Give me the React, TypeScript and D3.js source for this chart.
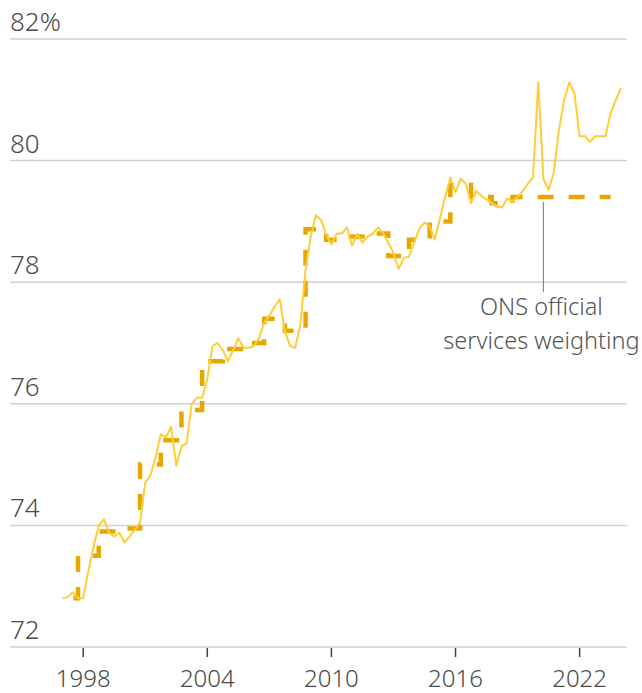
import React from 'react';
import * as d3 from 'd3';

const width = 642;
const height = 693;

const yTicks = [72, 74, 76, 78, 80, 82];
const xTicks = [1998, 2004, 2010, 2016, 2022];

// quarterly services share, 1997 Q1 .. 2024 Q1
const firstYear = 1997;
const actualShare = [
  72.8, 72.82, 72.9, 72.8,
  72.8, 73.25, 73.65, 74.0,
  74.1, 73.88, 73.82, 73.88,
  73.72, 73.82, 73.93, 74.05,
  74.7, 74.82, 75.12, 75.5,
  75.45, 75.62, 74.98, 75.3,
  75.35, 76.0, 76.1, 76.1,
  76.4, 76.95, 77.0, 76.88,
  76.7, 76.88, 77.08, 76.92,
  76.92, 76.95, 77.08, 77.33,
  77.45, 77.6, 77.72, 77.2,
  76.95, 76.92, 77.3, 78.2,
  78.75, 79.1, 79.02, 78.78,
  78.62, 78.8, 78.8, 78.9,
  78.6, 78.8, 78.65, 78.75,
  78.8, 78.9, 78.8, 78.65,
  78.48, 78.22, 78.4, 78.42,
  78.65, 78.88, 78.98, 78.92,
  78.7, 79.05, 79.4, 79.72,
  79.48, 79.7, 79.62, 79.3,
  79.5, 79.42, 79.36, 79.3,
  79.24, 79.23, 79.38, 79.33,
  79.4, 79.5, 79.62, 79.73,
  81.29, 79.7, 79.52, 79.8,
  80.5, 81.0, 81.29, 81.1,
  80.4, 80.4, 80.31, 80.4,
  80.4, 80.4, 80.78, 81.0,
  81.19,
];

// ONS official annual services weighting
const weightYears = [
  1997, 1998, 1999, 2000, 2001, 2002, 2003, 2004, 2005, 2006, 2007, 2008, 2009,
  2010, 2011, 2012, 2013, 2014, 2015, 2016, 2017, 2018, 2019, 2020, 2021, 2022, 2023,
];
const onsWeight = [
  72.8, 73.5, 73.9, 73.95, 75.0, 75.4, 75.9, 76.7, 76.9, 77.0, 77.4, 77.2, 78.87,
  78.7, 78.75, 78.8, 78.43, 78.7, 79.0, 79.6, 79.4, 79.3, 79.4, 79.4, 79.4, 79.4, 79.4,
];
const weightEnd = 2023.5;

const noteAt = 2020.25;
const noteLines = ['ONS official', 'services weighting'];

const font = "'Noto Sans', sans-serif";

const App = () => {
  const x = d3.scaleLinear().domain([1997, 2024]).range([62.5, 621]);
  const y = d3.scaleLinear().domain([72, 82]).range([647, 39]);

  const actual = actualShare.map((v, i) => ({ t: firstYear + i / 4, v }));
  const line = d3.line<{ t: number; v: number }>()
    .x(d => x(d.t))
    .y(d => y(d.v));

  // each year's weight starts one quarter early; drawn from the end so dashes line up on the right
  const steps = weightYears.map((yr, i) => ({ t: i === 0 ? yr : yr - 0.25, v: onsWeight[i] }));
  steps.push({ t: weightEnd, v: onsWeight[onsWeight.length - 1] });
  const stepLine = d3.line<{ t: number; v: number }>()
    .x(d => x(d.t))
    .y(d => y(d.v))
    .curve(d3.curveStepBefore);

  return (
    <svg width={width} height={height} style={{ position: 'absolute', left: 0, top: 0 }}>
      {yTicks.map(t => (
        <g key={t}>
          <line x1={10} x2={627} y1={y(t)} y2={y(t)} stroke="#d2d2d2" strokeWidth={1.5} />
          <text x={10} y={y(t) - 8} fontFamily={font} fontSize={26} fontWeight={300} fill="#4a4a4a">
            {t === 82 ? '82%' : t}
          </text>
        </g>
      ))}
      {xTicks.map(t => (
        <g key={t}>
          <line x1={x(t)} x2={x(t)} y1={648} y2={657} stroke="#444" strokeWidth={1.5} />
          <text x={x(t)} y={687} textAnchor="middle" fontFamily={font} fontSize={24} fontWeight={300} fill="#4a4a4a">
            {t}
          </text>
        </g>
      ))}

      <path d={stepLine(steps.slice().reverse()) || ''} fill="none" stroke="#e6a800"
        strokeWidth={4.5} strokeDasharray="16 15" strokeDashoffset={5} />
      <path d={line(actual) || ''} fill="none" stroke="#fecd38" strokeWidth={2} strokeLinejoin="round" />

      <line x1={x(noteAt)} x2={x(noteAt)} y1={y(79.4) + 5} y2={292} stroke="#888" strokeWidth={1.2} />
      {noteLines.map((s, i) => (
        <text key={s} x={x(noteAt) - 2} y={315 + i * 34} textAnchor="middle" fontFamily={font}
          fontSize={23.5} fontWeight={300} fill="#555">
          {s}
        </text>
      ))}
    </svg>
  );
};

export default App;
